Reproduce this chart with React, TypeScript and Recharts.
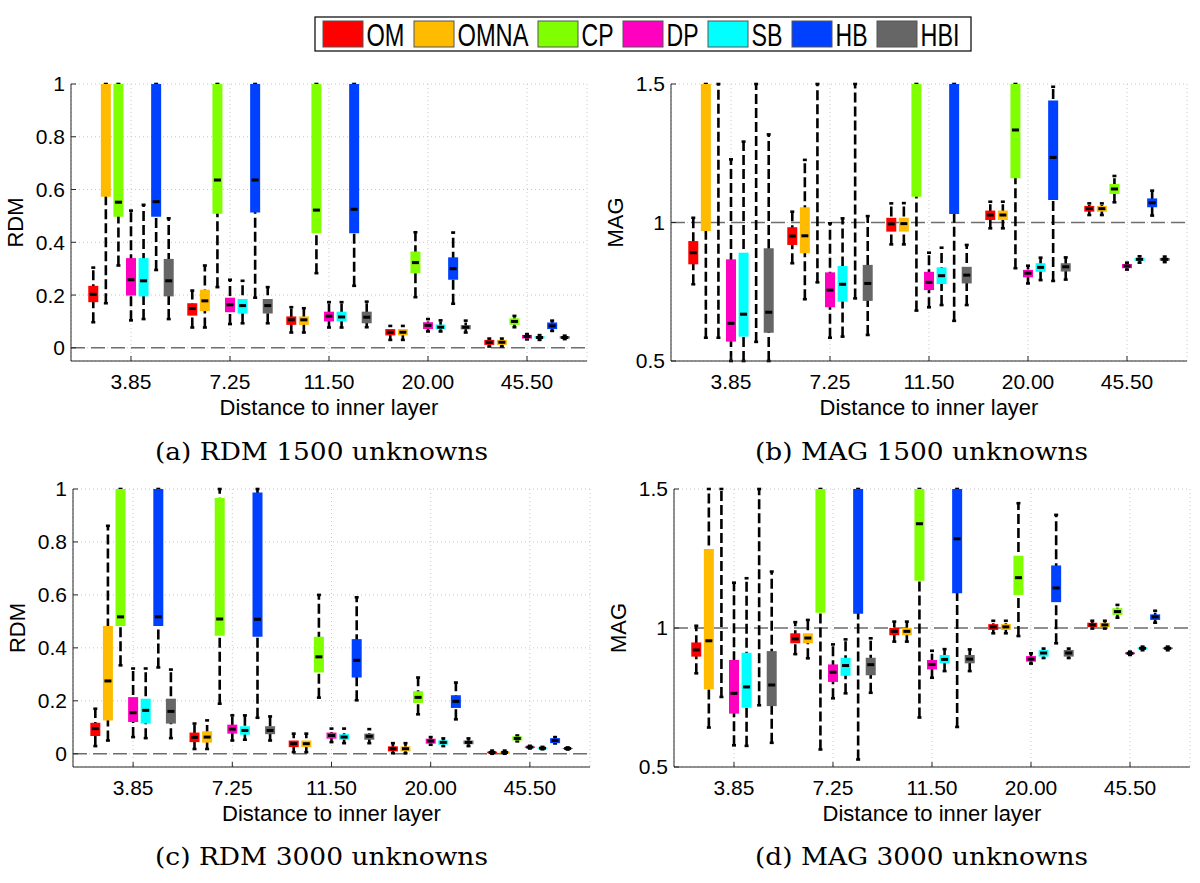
import React from "react"
import { ComposedChart, Scatter, ErrorBar, XAxis, YAxis, CartesianGrid, ReferenceLine, Label } from "recharts"

// methods, in the order they sit inside each group
const SERIES = ["OM", "OMNA", "CP", "DP", "SB", "HB", "HBI"]
const COLORS = ["#ff0000", "#ffbb00", "#80ff00", "#ff00c0", "#00ffff", "#0040ff", "#666666"]
const DISTANCES = ["3.85", "7.25", "11.50", "20.00", "45.50"]
const RDM_TICKS = [0, 0.2, 0.4, 0.6, 0.8, 1]
const MAG_TICKS = [0.5, 1, 1.5]

// one row per method, one entry per distance: [lower whisker, q1, median, q3, upper whisker]
const rdm1500 = [
  [[0.097, 0.173, 0.203, 0.235, 0.304], [0.077, 0.122, 0.149, 0.169, 0.217], [0.058, 0.087, 0.106, 0.119, 0.154], [0.03, 0.047, 0.059, 0.071, 0.083], [0.005, 0.011, 0.021, 0.03, 0.035]],
  [[0.169, 0.573, 1.1, 1.3, 1.5], [0.077, 0.139, 0.178, 0.22, 0.312], [0.058, 0.087, 0.106, 0.119, 0.15], [0.03, 0.047, 0.059, 0.071, 0.083], [0.005, 0.011, 0.021, 0.03, 0.035]],
  [[0.312, 0.497, 0.552, 1.2, 1.5], [0.23, 0.508, 0.636, 1.2, 1.5], [0.283, 0.434, 0.522, 1.2, 1.5], [0.192, 0.283, 0.323, 0.365, 0.438], [0.078, 0.087, 0.1, 0.112, 0.121]],
  [[0.104, 0.198, 0.258, 0.34, 0.52], [0.09, 0.135, 0.163, 0.19, 0.258], [0.077, 0.1, 0.12, 0.137, 0.173], [0.062, 0.071, 0.085, 0.097, 0.109], [0.032, 0.035, 0.043, 0.049, 0.052]],
  [[0.109, 0.195, 0.254, 0.34, 0.542], [0.093, 0.13, 0.16, 0.185, 0.254], [0.077, 0.1, 0.117, 0.137, 0.173], [0.062, 0.07, 0.078, 0.088, 0.104], [0.03, 0.035, 0.039, 0.045, 0.048]],
  [[0.295, 0.497, 0.554, 1.2, 1.5], [0.19, 0.513, 0.636, 1.2, 1.5], [0.235, 0.434, 0.525, 1.2, 1.5], [0.167, 0.258, 0.3, 0.343, 0.437], [0.064, 0.071, 0.083, 0.096, 0.103]],
  [[0.109, 0.195, 0.254, 0.337, 0.491], [0.093, 0.13, 0.16, 0.185, 0.23], [0.078, 0.093, 0.116, 0.137, 0.175], [0.058, 0.07, 0.078, 0.086, 0.103], [0.033, 0.035, 0.039, 0.044, 0.046]],
]

const mag1500 = [
  [[0.777, 0.849, 0.891, 0.933, 1.017], [0.853, 0.919, 0.951, 0.983, 1.039], [0.921, 0.967, 0.995, 1.017, 1.069], [0.979, 1.009, 1.027, 1.043, 1.075], [1.027, 1.039, 1.05, 1.06, 1.069]],
  [[0.584, 0.969, 1.6, 1.8, 2.0], [0.723, 0.889, 0.952, 1.055, 1.226], [0.921, 0.967, 0.996, 1.017, 1.07], [0.979, 1.009, 1.027, 1.043, 1.075], [1.027, 1.039, 1.05, 1.06, 1.069]],
  [[0.584, 1.6, 1.7, 1.8, 2.0], [0.784, 1.6, 1.7, 1.8, 2.0], [0.682, 1.093, 1.6, 1.8, 2.0], [0.835, 1.16, 1.334, 1.55, 1.8], [1.073, 1.103, 1.121, 1.139, 1.168]],
  [[0.45, 0.57, 0.636, 0.867, 1.228], [0.584, 0.694, 0.756, 0.82, 0.997], [0.694, 0.756, 0.784, 0.822, 0.891], [0.78, 0.802, 0.817, 0.829, 0.844], [0.83, 0.835, 0.843, 0.85, 0.855]],
  [[0.45, 0.588, 0.669, 0.891, 1.292], [0.588, 0.714, 0.777, 0.843, 1.015], [0.702, 0.778, 0.808, 0.838, 0.909], [0.792, 0.822, 0.838, 0.853, 0.873], [0.855, 0.861, 0.867, 0.873, 0.878]],
  [[0.569, 1.6, 1.7, 1.8, 2.0], [0.726, 1.6, 1.7, 1.8, 2.0], [0.645, 1.031, 1.6, 1.8, 2.0], [0.789, 1.081, 1.235, 1.44, 1.49], [1.025, 1.055, 1.071, 1.087, 1.115]],
  [[0.45, 0.602, 0.676, 0.907, 1.318], [0.594, 0.717, 0.78, 0.847, 1.023], [0.702, 0.78, 0.81, 0.84, 0.919], [0.794, 0.823, 0.84, 0.853, 0.874], [0.857, 0.862, 0.867, 0.872, 0.877]],
]

const rdm3000 = [
  [[0.029, 0.067, 0.095, 0.117, 0.17], [0.018, 0.044, 0.062, 0.08, 0.114], [0.006, 0.025, 0.038, 0.05, 0.076], [0.002, 0.009, 0.019, 0.028, 0.04], [0.0, 0.002, 0.005, 0.008, 0.012]],
  [[0.05, 0.126, 0.275, 0.483, 0.861], [0.018, 0.042, 0.063, 0.085, 0.126], [0.006, 0.025, 0.038, 0.05, 0.076], [0.002, 0.009, 0.019, 0.028, 0.04], [0.0, 0.002, 0.005, 0.008, 0.012]],
  [[0.334, 0.483, 0.517, 1.2, 1.5], [0.189, 0.446, 0.509, 0.966, 1.02], [0.212, 0.307, 0.366, 0.442, 0.6], [0.149, 0.192, 0.213, 0.236, 0.288], [0.047, 0.05, 0.058, 0.066, 0.069]],
  [[0.063, 0.12, 0.155, 0.214, 0.322], [0.05, 0.076, 0.093, 0.11, 0.145], [0.044, 0.057, 0.069, 0.08, 0.095], [0.034, 0.038, 0.048, 0.057, 0.063], [0.02, 0.022, 0.025, 0.028, 0.03]],
  [[0.059, 0.114, 0.164, 0.208, 0.322], [0.053, 0.072, 0.088, 0.104, 0.145], [0.04, 0.053, 0.063, 0.074, 0.095], [0.029, 0.034, 0.043, 0.051, 0.058], [0.017, 0.019, 0.021, 0.024, 0.026]],
  [[0.326, 0.483, 0.517, 1.2, 1.5], [0.136, 0.442, 0.508, 0.987, 1.0], [0.202, 0.288, 0.353, 0.433, 0.591], [0.13, 0.173, 0.198, 0.221, 0.269], [0.039, 0.04, 0.05, 0.059, 0.063]],
  [[0.059, 0.114, 0.16, 0.208, 0.318], [0.05, 0.074, 0.088, 0.104, 0.141], [0.04, 0.053, 0.066, 0.076, 0.093], [0.029, 0.036, 0.043, 0.05, 0.058], [0.016, 0.018, 0.02, 0.022, 0.024]],
]

const mag3000 = [
  [[0.837, 0.897, 0.921, 0.948, 1.008], [0.906, 0.945, 0.961, 0.981, 1.021], [0.951, 0.974, 0.988, 1.0, 1.023], [0.981, 0.993, 1.004, 1.014, 1.026], [0.998, 1.003, 1.011, 1.019, 1.026]],
  [[0.642, 0.78, 0.954, 1.284, 1.6], [0.891, 0.945, 0.964, 0.981, 1.029], [0.951, 0.974, 0.988, 1.0, 1.023], [0.981, 0.993, 1.004, 1.014, 1.026], [0.998, 1.003, 1.011, 1.019, 1.026]],
  [[0.752, 1.6, 1.7, 1.8, 2.0], [0.563, 1.055, 1.6, 1.8, 2.0], [0.678, 1.17, 1.375, 1.6, 1.8], [0.971, 1.119, 1.181, 1.26, 1.449], [1.037, 1.047, 1.059, 1.071, 1.083]],
  [[0.578, 0.692, 0.765, 0.885, 1.163], [0.747, 0.806, 0.841, 0.869, 0.941], [0.821, 0.851, 0.869, 0.885, 0.918], [0.872, 0.879, 0.888, 0.899, 0.909], [0.903, 0.906, 0.909, 0.912, 0.915]],
  [[0.576, 0.713, 0.788, 0.911, 1.179], [0.765, 0.828, 0.865, 0.893, 0.959], [0.845, 0.873, 0.887, 0.903, 0.924], [0.892, 0.897, 0.91, 0.921, 0.926], [0.92, 0.924, 0.927, 0.93, 0.933]],
  [[0.722, 1.6, 1.7, 1.8, 2.0], [0.527, 1.051, 1.6, 1.8, 2.0], [0.644, 1.125, 1.321, 1.6, 1.8], [0.945, 1.093, 1.144, 1.225, 1.407], [1.019, 1.029, 1.04, 1.049, 1.062]],
  [[0.587, 0.719, 0.795, 0.917, 1.203], [0.767, 0.83, 0.868, 0.893, 0.963], [0.845, 0.873, 0.888, 0.903, 0.923], [0.892, 0.897, 0.91, 0.921, 0.926], [0.92, 0.924, 0.927, 0.93, 0.933]],
]

const X_TICKS = [1, 2, 3, 4, 5]
const X_DOMAIN = [0.394, 5.606]
const STEP = 0.127 // spacing between boxes inside a group, in axis units
const SANS = "'Liberation Sans', Arial, Helvetica, sans-serif"
const AXIS_COLOR = "#262626"

// error bars are not clipped, so cut box and whiskers at the axis limits
function toPoints(rows: number[][], groupOffset: number, [ymin, ymax]: number[]) {
  const clip = (v: number) => Math.min(ymax, Math.max(ymin, v))
  return rows.map(([lo, q1, med, q3, hi], g) => ({
    x: g + 1 + groupOffset,
    med,
    inside: med >= ymin && med <= ymax,
    box: [med - clip(q1), clip(q3) - med],
    wh: [med - clip(lo), clip(hi) - med],
  }))
}

const MedianMark = (p: any) =>
  p.payload && p.payload.inside ? <rect x={p.cx - 3.5} y={p.cy - 1.5} width={7} height={3} fill="#000" /> : <g />

interface PanelProps {
  stats: number[][][]
  yDomain: number[]
  yTicks: number[]
  yLabel: string
  refY: number
  left: number
  top: number
  margin: { top: number; right: number; bottom: number; left: number }
}

function BoxPanel({ stats, yDomain, yTicks, yLabel, refY, left, top, margin }: PanelProps) {
  return (
    <div style={{ position: "absolute", left, top }}>
      <ComposedChart width={600} height={430} margin={margin}>
        <CartesianGrid stroke="#c8c8c8" strokeDasharray="1 3" />
        <XAxis
          dataKey="x"
          type="number"
          domain={X_DOMAIN}
          ticks={X_TICKS}
          allowDataOverflow
          interval={0}
          height={56}
          tickSize={-5}
          tickMargin={18}
          stroke={AXIS_COLOR}
          tickFormatter={(v: number) => DISTANCES[v - 1]}
          tick={{ fontSize: 21, fill: "#000", fontFamily: SANS }}
        >
          <Label value="Distance to inner layer" position="insideBottom" offset={2} style={{ fontSize: 22, fill: "#000", fontFamily: SANS }} />
        </XAxis>
        <YAxis
          dataKey="med"
          type="number"
          domain={yDomain}
          ticks={yTicks}
          allowDataOverflow
          interval={0}
          width={45}
          tickSize={-5}
          tickMargin={11}
          stroke={AXIS_COLOR}
          tick={{ fontSize: 21, fill: "#000", fontFamily: SANS }}
        >
          <Label
            content={(props: any) => {
              const vb = props.viewBox
              const cx = vb.x + vb.width - 56
              const cy = vb.y + vb.height / 2
              return (
                <text x={cx} y={cy} textAnchor="middle" dominantBaseline="central" transform={`rotate(-90 ${cx} ${cy})`} fontSize={22} fontFamily={SANS} fill="#000">
                  {yLabel}
                </text>
              )
            }}
          />
        </YAxis>
        <XAxis xAxisId="top" orientation="top" type="number" domain={X_DOMAIN} ticks={X_TICKS} allowDataOverflow mirror height={0} tick={false} tickSize={5} stroke={AXIS_COLOR} />
        <YAxis yAxisId="right" orientation="right" type="number" domain={yDomain} ticks={yTicks} allowDataOverflow mirror width={0} tick={false} tickSize={5} stroke={AXIS_COLOR} />
        <ReferenceLine y={refY} stroke="#6e6e6e" strokeWidth={1.5} strokeDasharray="14 6" />
        {SERIES.map((name, s) => (
          <Scatter key={name} name={name} data={toPoints(stats[s], (s - 3) * STEP, yDomain)} shape={MedianMark} isAnimationActive={false}>
            <ErrorBar dataKey="wh" direction="y" width={2} stroke="#000" strokeWidth={2.6} strokeDasharray="10 4" isAnimationActive={false} />
            <ErrorBar dataKey="box" direction="y" width={0} stroke={COLORS[s]} strokeWidth={10} isAnimationActive={false} />
          </Scatter>
        ))}
      </ComposedChart>
    </div>
  )
}

const LEGEND_TEXT_W = [38, 71, 32, 32, 31, 32, 39]

function FigureText() {
  let x = 323
  const items = SERIES.map((name, i) => {
    const sx = x
    const tx = sx + 43.5
    x = tx + LEGEND_TEXT_W[i] + 9.5
    return (
      <g key={name}>
        <rect x={sx} y={21} width={40} height={26} fill={COLORS[i]} stroke="#555" strokeWidth={1} />
        <text x={tx} y={46} fontSize={31} fontFamily={SANS} textLength={LEGEND_TEXT_W[i]} lengthAdjust="spacingAndGlyphs" fill="#000">
          {name}
        </text>
      </g>
    )
  })
  const captions = [
    { t: "(a) RDM 1500 unknowns", x: 155, y: 460 },
    { t: "(b) MAG 1500 unknowns", x: 755, y: 460 },
    { t: "(c) RDM 3000 unknowns", x: 155, y: 865 },
    { t: "(d) MAG 3000 unknowns", x: 755, y: 865 },
  ]
  return (
    <svg width={1200} height={883} style={{ position: "absolute", left: 0, top: 0, pointerEvents: "none" }}>
      <rect x={315} y={17} width={656} height={34} fill="#fff" stroke="#000" strokeWidth={1.2} />
      {items}
      {captions.map((c) => (
        <text key={c.t} x={c.x} y={c.y} fontSize={25} fontFamily="'DejaVu Serif', serif" textLength={333} lengthAdjust="spacingAndGlyphs" fill="#000">
          {c.t}
        </text>
      ))}
    </svg>
  )
}

export default function App() {
  return (
    <div style={{ position: "absolute", left: 0, top: 0, width: 1200, height: 883, background: "#fff", overflow: "hidden" }}>
      <BoxPanel stats={rdm1500} yDomain={[-0.05, 1]} yTicks={RDM_TICKS} yLabel="RDM" refY={0} left={0} top={0} margin={{ top: 84, right: 13, bottom: 13, left: 26 }} />
      <BoxPanel stats={mag1500} yDomain={[0.5, 1.5]} yTicks={MAG_TICKS} yLabel="MAG" refY={1} left={600} top={0} margin={{ top: 84, right: 13, bottom: 13, left: 26 }} />
      <BoxPanel stats={rdm3000} yDomain={[-0.05, 1]} yTicks={RDM_TICKS} yLabel="RDM" refY={0} left={0} top={405} margin={{ top: 84, right: 10, bottom: 12, left: 28 }} />
      <BoxPanel stats={mag3000} yDomain={[0.5, 1.5]} yTicks={MAG_TICKS} yLabel="MAG" refY={1} left={600} top={405} margin={{ top: 84, right: 10, bottom: 12, left: 29 }} />
      <FigureText />
    </div>
  )
}
